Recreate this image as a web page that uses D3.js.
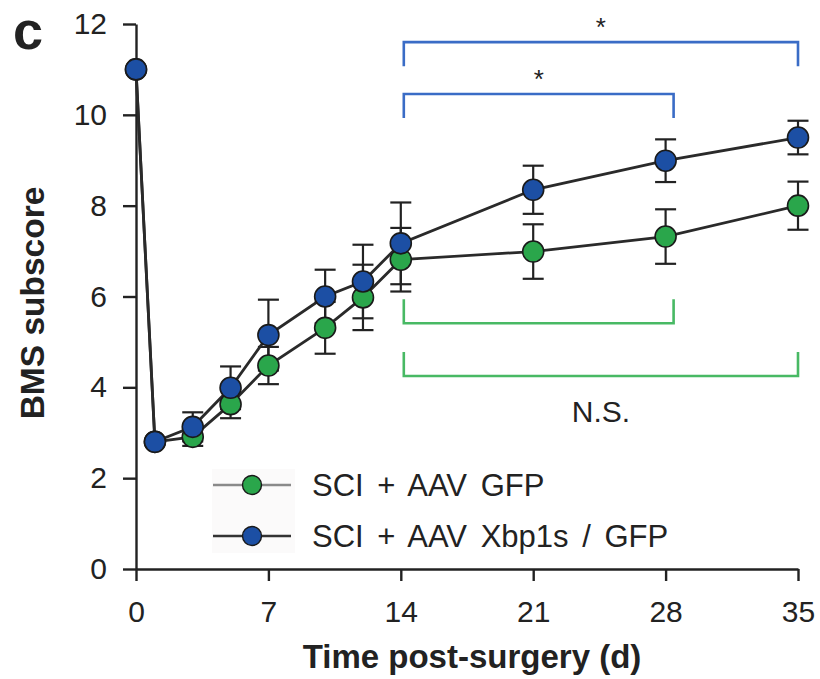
<!DOCTYPE html>
<html>
<head>
<meta charset="utf-8">
<script src="https://cdn.jsdelivr.net/npm/d3@7"></script>
<style>
  html, body { margin: 0; padding: 0; background: #fff; }
  svg { display: block; font-family: "Liberation Sans", Arial, Helvetica, sans-serif; }
</style>
</head>
<body>
<svg id="chart" width="820" height="679"></svg>
<script>
// Days after spinal cord injury at which BMS subscores were taken
const days = [0, 1, 3, 5, 7, 10, 12, 14, 21, 28, 35];

// SCI + AAV GFP: mean and s.e.m.
const gfpMean = [11, 2.8, 2.91, 3.63, 4.48, 5.31, 5.98, 6.81, 6.99, 7.32, 8.00];
const gfpErr  = [0, 0, 0.20, 0.31, 0.41, 0.57, 0.72, 0.70, 0.60, 0.60, 0.53];

// SCI + AAV Xbp1s / GFP: mean and s.e.m.
const xbpMean = [11, 2.8, 3.13, 3.99, 5.15, 6.00, 6.33, 7.17, 8.35, 8.99, 9.50];
const xbpErr  = [0, 0, 0.32, 0.47, 0.78, 0.59, 0.81, 0.90, 0.53, 0.47, 0.37];

const seriesNames = ["SCI + AAV GFP", "SCI + AAV Xbp1s / GFP"];
const xTicks = [0, 7, 14, 21, 28, 35];
const yTicks = [0, 2, 4, 6, 8, 10, 12];

// Statistical comparisons between time points within each group
const comparisons = [
  { group: 1, from: 14, to: 35, label: "*" },
  { group: 1, from: 14, to: 28, label: "*" },
  { group: 0, from: 14, to: 28, label: "" },
  { group: 0, from: 14, to: 35, label: "N.S." }
];

const fills = ["#2aa64b", "#1c4fa4"];
const bracketColors = ["#48b964", "#3a6cc6"];
const ink = "#222";

const svg = d3.select("#chart");
const x = d3.scaleLinear().domain([0, 35]).range([136, 798]);
const y = d3.scaleLinear().domain([0, 12]).range([569, 24]);

// Axes
const yAxis = svg.append("g")
  .attr("transform", `translate(${x(0)},0)`)
  .call(d3.axisLeft(y).tickValues(yTicks).tickSize(13).tickSizeOuter(0).tickPadding(16));
const xAxis = svg.append("g")
  .attr("transform", `translate(0,${y(0)})`)
  .call(d3.axisBottom(x).tickValues(xTicks).tickSize(12).tickSizeOuter(0).tickPadding(20));
[yAxis, xAxis].forEach(g => {
  g.selectAll("path.domain").attr("stroke", ink).attr("stroke-width", 2.4);
  g.selectAll(".tick line").attr("stroke", ink).attr("stroke-width", 2.4);
  g.selectAll(".tick text").attr("fill", "#222").style("font-size", "30px")
    .style("font-family", "'Liberation Sans', Arial, sans-serif");
});

// Axis titles and panel letter
svg.append("text")
  .attr("x", 472).attr("y", 668)
  .attr("text-anchor", "middle")
  .style("font-size", "33px").style("font-weight", "bold").attr("fill", "#222")
  .text("Time post-surgery (d)");
svg.append("text")
  .attr("transform", "translate(44,303) rotate(-90)")
  .attr("text-anchor", "middle")
  .style("font-size", "33.5px").style("font-weight", "bold").attr("fill", "#222")
  .text("BMS subscore");
svg.append("text")
  .attr("x", 13).attr("y", 49)
  .style("font-size", "54px").style("font-weight", "bold").attr("fill", "#222")
  .text("c");

// Build series records
const series = [
  { name: seriesNames[0], fill: fills[0], pts: days.map((d, i) => ({ d, m: gfpMean[i], e: gfpErr[i] })) },
  { name: seriesNames[1], fill: fills[1], pts: days.map((d, i) => ({ d, m: xbpMean[i], e: xbpErr[i] })) }
];

// Error bars
const capHalf = 10.5;
series.forEach(s => {
  const g = svg.append("g").attr("stroke", ink).attr("stroke-width", 2.2);
  s.pts.filter(p => p.e > 0).forEach(p => {
    const cx = x(p.d), top = y(p.m + p.e), bot = y(p.m - p.e);
    g.append("line").attr("x1", cx).attr("x2", cx).attr("y1", top).attr("y2", bot);
    g.append("line").attr("x1", cx - capHalf).attr("x2", cx + capHalf).attr("y1", top).attr("y2", top);
    g.append("line").attr("x1", cx - capHalf).attr("x2", cx + capHalf).attr("y1", bot).attr("y2", bot);
  });
});

// Connecting lines
const line = d3.line().x(p => x(p.d)).y(p => y(p.m));
series.forEach(s => {
  svg.append("path").datum(s.pts)
    .attr("d", line).attr("fill", "none")
    .attr("stroke", "#2a2a2a").attr("stroke-width", 2.8);
});

// Markers (Xbp1s drawn last, on top)
series.forEach(s => {
  svg.append("g").selectAll("circle").data(s.pts).join("circle")
    .attr("cx", p => x(p.d)).attr("cy", p => y(p.m)).attr("r", 10.5)
    .attr("fill", s.fill).attr("stroke", "#1a1a1a").attr("stroke-width", 1.6);
});

// Significance brackets
const bracketLevels = [
  { h: 11.6, dir: -1 }, { h: 10.46, dir: -1 },   // Xbp1s, legs hang down
  { h: 5.41, dir: 1 }, { h: 4.25, dir: 1 }       // GFP, legs point up
];
const legLen = 24;
comparisons.forEach((c, i) => {
  const lv = bracketLevels[i];
  const yy = y(lv.h);
  const legY = lv.dir < 0 ? yy + legLen : yy - legLen;
  const x1 = x(c.from) + 3, x2 = x(c.to) + (c.to < 35 ? 8 : 0);
  svg.append("path")
    .attr("d", `M${x1},${legY}V${yy}H${x2}V${legY}`)
    .attr("fill", "none")
    .attr("stroke", bracketColors[c.group]).attr("stroke-width", 2.6);
  if (c.label) {
    const mid = (x1 + x2) / 2;
    if (lv.dir < 0) {
      svg.append("text").attr("x", mid).attr("y", yy - 6)
        .attr("text-anchor", "middle").style("font-size", "26px").attr("fill", "#222")
        .text(c.label);
    } else {
      svg.append("text").attr("x", mid).attr("y", yy + 46)
        .attr("text-anchor", "middle").style("font-size", "30px").attr("fill", "#222")
        .text(c.label);
    }
  }
});

// Legend
const legend = svg.append("g").attr("transform", "translate(213,485)");
legend.append("rect").attr("x", -1).attr("y", -16).attr("width", 83).attr("height", 84)
  .attr("fill", "#fbfafa");
const legendLine = ["#8a8a8a", "#333"];
series.forEach((s, i) => {
  const row = legend.append("g").attr("transform", `translate(0,${i * 51})`);
  row.append("line").attr("x1", 0).attr("x2", 78).attr("y1", 0).attr("y2", 0)
    .attr("stroke", legendLine[i]).attr("stroke-width", 2.4);
  row.append("circle").attr("cx", 39).attr("cy", 0).attr("r", 9.5)
    .attr("fill", s.fill).attr("stroke", "#1a1a1a").attr("stroke-width", 1.4);
  row.append("text").attr("x", 99).attr("y", 10.5)
    .style("font-size", "31px").style("word-spacing", "5px").attr("fill", "#222")
    .text(s.name);
});
</script>
</body>
</html>
